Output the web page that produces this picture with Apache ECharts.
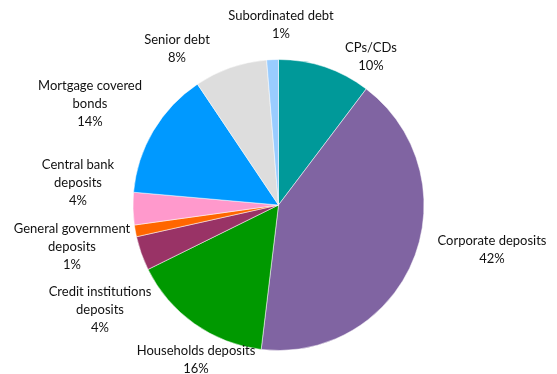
<!DOCTYPE html>
<html>
<head>
<meta charset="utf-8">
<script src="https://cdn.jsdelivr.net/npm/echarts@6/dist/echarts.min.js"></script>
<style>
  html, body { margin: 0; padding: 0; background: #fff; }
  #chart { width: 557px; height: 374px; }
</style>
</head>
<body>
<div id="chart"></div>
<script>
// Funding structure, share of total (%)
const categories = [
  'CPs/CDs',
  'Corporate deposits',
  'Households deposits',
  'Credit institutions deposits',
  'General government deposits',
  'Central bank deposits',
  'Mortgage covered bonds',
  'Senior debt',
  'Subordinated debt'
];
const shares = [10.3, 41.6, 15.8, 3.8, 1.3, 3.6, 14.2, 8.1, 1.3];

const sliceColors = ['#009999', '#8064A2', '#009900', '#993366', '#FF6600',
                     '#FF99CC', '#0099FF', '#DDDDDD', '#99CCFF'];

// Line-broken label text
const labelText = {
  'Credit institutions deposits': 'Credit institutions\ndeposits',
  'General government deposits': 'General government\ndeposits',
  'Central bank deposits': 'Central bank\ndeposits',
  'Mortgage covered bonds': 'Mortgage covered\nbonds'
};

// Label anchor points (block centres) around the pie
const labelAnchors = [
  [371, 57], [492, 250], [196, 360], [100, 310], [72, 247],
  [78, 183], [90, 104], [177, 49], [281, 25]
];

const chart = echarts.init(document.getElementById('chart'), null, { renderer: 'canvas' });
chart.setOption({
  animation: false,
  backgroundColor: '#ffffff',
  series: [{
    type: 'pie',
    center: [278.5, 205],
    radius: 145.5,
    startAngle: 90,
    clockwise: true,
    avoidLabelOverlap: false,
    itemStyle: { borderColor: '#ffffff', borderWidth: 0.5 },
    label: {
      show: true,
      position: 'outside',
      fontFamily: 'Lato',
      fontSize: 13,
      lineHeight: 18,
      color: '#111111',
      align: 'center',
      formatter: p => (labelText[p.name] || p.name) + '\n' + Math.round(p.value) + '%'
    },
    labelLine: { show: false },
    labelLayout: p => ({
      x: labelAnchors[p.dataIndex][0],
      y: labelAnchors[p.dataIndex][1],
      align: 'center',
      verticalAlign: 'middle',
      hideOverlap: false
    }),
    data: categories.map((name, i) => ({
      name: name,
      value: shares[i],
      itemStyle: { color: sliceColors[i] }
    }))
  }]
});
</script>
</body>
</html>
